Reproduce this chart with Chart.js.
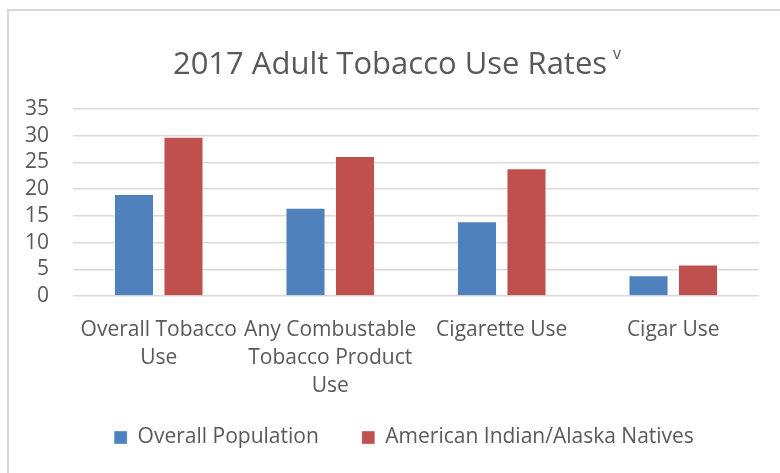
<!DOCTYPE html>
<html>
<head>
<meta charset="utf-8">
<script src="https://cdn.jsdelivr.net/npm/chart.js@4.4.1/dist/chart.umd.min.js"></script>
<style>
  html, body { margin: 0; padding: 0; background: #ffffff; overflow: hidden; width: 780px; height: 473px; }
  #frame { position: absolute; left: 7px; top: 9px; width: 800px; height: 500px; border: 2px solid #d9d9d9; box-sizing: content-box; }
  #wrap { position: absolute; left: 0; top: 0; width: 776px; height: 462px; }
</style>
</head>
<body>
<div id="frame"><div id="wrap"><canvas id="chart"></canvas></div></div>
<script>
// ---- data ----
const titleText = '2017 Adult Tobacco Use Rates';
const titleSup = 'v';
const categories = [
  ['Overall Tobacco', 'Use'],
  ['Any Combustable', 'Tobacco Product', 'Use'],
  'Cigarette Use',
  'Cigar Use'
];
const seriesNames = ['Overall Population', 'American Indian/Alaska Natives'];
const overallPopulation = [19.1, 16.5, 14.0, 3.9];
const americanIndianAlaskaNatives = [29.8, 26.2, 23.9, 5.9];
const yTickValues = [0, 5, 10, 15, 20, 25, 30, 35];

// ---- styling ----
const TEXT = '#595959';
const FONT = "'Open Sans', sans-serif";
const BLUE = '#4F81BD';
const RED = '#C0504D';

const titlePlugin = {
  id: 'supTitle',
  afterLayout(chart) {
    // let the multi-line category labels extend below the reserved axis box
    const x = chart.scales.x;
    x.bottom = x.top + 130;
    // nudge legend to match reference placement
    const lg = chart.legend;
    if (lg) { lg.left += 20; lg.right += 20; }
  },
  afterDraw(chart) {
    const ctx = chart.ctx;
    ctx.save();
    ctx.fillStyle = TEXT;
    ctx.textBaseline = 'alphabetic';
    ctx.textAlign = 'left';
    ctx.font = "31px " + FONT;
    const w1 = ctx.measureText(titleText).width;
    ctx.font = "16px " + FONT;
    const w2 = ctx.measureText(titleSup).width;
    const gap = 6;
    const total = w1 + gap + w2;
    const x0 = chart.width / 2 - total / 2;
    ctx.font = "31px " + FONT;
    ctx.fillText(titleText, x0, 63);
    ctx.font = "16px " + FONT;
    ctx.fillText(titleSup, x0 + w1 + gap, 48);
    ctx.restore();
  }
};

new Chart(document.getElementById('chart'), {
  type: 'bar',
  data: {
    labels: categories,
    datasets: [
      {
        label: seriesNames[0],
        data: overallPopulation,
        backgroundColor: BLUE,
        borderColor: 'rgba(255,255,255,0.35)',
        borderWidth: 1,
        categoryPercentage: 0.577,
        barPercentage: 0.81
      },
      {
        label: seriesNames[1],
        data: americanIndianAlaskaNatives,
        backgroundColor: RED,
        borderColor: 'rgba(255,255,255,0.35)',
        borderWidth: 1,
        categoryPercentage: 0.577,
        barPercentage: 0.81
      }
    ]
  },
  options: {
    responsive: true,
    maintainAspectRatio: false,
    animation: false,
    devicePixelRatio: 1,
    layout: { padding: { left: 0, right: 26, top: 98, bottom: 15 } },
    plugins: {
      title: { display: false },
      tooltip: { enabled: false },
      legend: {
        display: true,
        position: 'bottom',
        align: 'center',
        labels: {
          boxWidth: 13,
          boxHeight: 13,
          padding: 43,
          color: TEXT,
          font: { family: FONT, size: 21 }
        }
      }
    },
    scales: {
      x: {
        grid: { display: false, drawTicks: false },
        border: { display: false },
        ticks: {
          color: TEXT,
          font: { family: FONT, size: 21, lineHeight: 1.333 },
          padding: 20,
          maxRotation: 0,
          autoSkip: false
        },
        afterFit(scale) { scale.height = 88; }
      },
      y: {
        min: 0,
        max: 35,
        border: { display: false },
        grid: { color: '#d9d9d9', lineWidth: 1.5, drawTicks: false },
        ticks: {
          color: TEXT,
          font: { family: FONT, size: 21 },
          padding: 24,
          stepSize: 5,
          autoSkip: false
        },
        afterBuildTicks(scale) { scale.ticks = yTickValues.map(v => ({ value: v })); },
        afterFit(scale) { scale.width = 64; }
      }
    }
  },
  plugins: [titlePlugin]
});
</script>
</body>
</html>
